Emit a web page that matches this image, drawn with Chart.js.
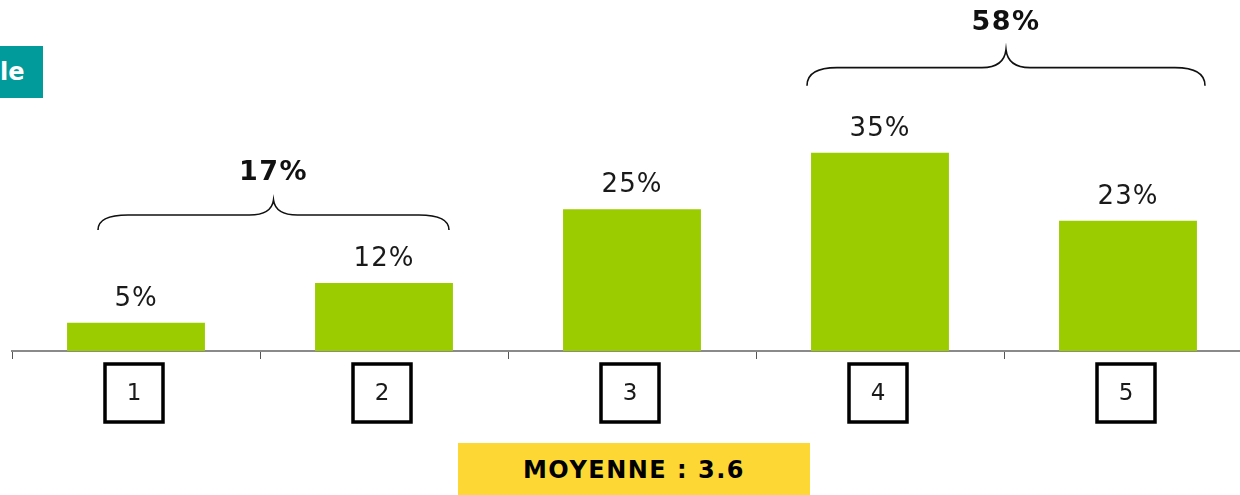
<!DOCTYPE html>
<html lang="fr">
<head>
<meta charset="utf-8">
<title>Répartition des notes</title>
<script src="https://cdn.jsdelivr.net/npm/chart.js@4.4.1/dist/chart.umd.min.js"></script>
<style>
  html, body { margin: 0; padding: 0; background: #ffffff; overflow: hidden; }
  #wrap { position: relative; width: 1264px; height: 495px; }
  #chart { display: block; }
  .tag {
    position: absolute; left: 0; top: 46px; width: 43px; height: 52px;
    background: #009b9a; color: #ffffff; overflow: hidden;
    font: bold 24px "DejaVu Sans", sans-serif; line-height: 52px;
    text-align: right; box-sizing: border-box; padding-right: 20px;
    white-space: nowrap;
  }
  .mean {
    position: absolute; left: 458px; top: 443px; width: 352px; height: 52px;
    background: #fdd835; color: #000000;
    font: bold 24px "DejaVu Sans", sans-serif; letter-spacing: 1.5px;
    line-height: 54px; text-align: center;
  }
</style>
</head>
<body>
<div id="wrap">
  <canvas id="chart"></canvas>
  <div class="tag">le</div>
  <div class="mean">MOYENNE : 3.6</div>
</div>
<script>
// Rating scale 1..5 and share of answers (%)
const categories = ['1', '2', '3', '4', '5'];
const shares = [5, 12, 25, 35, 23];
// Grouped totals shown above braces: bottom two and top two ratings
const groupLabels = ['17%', '58%'];
const groupFrom = [0, 3];
const groupTo = [1, 4];

const BAR_COLOR = '#9bcc00';
const AXIS_COLOR = '#8a8a8a';

// Curly brace with a cusp in the middle, opening downward
function drawBrace(ctx, x1, x2, yh, rise) {
  const xm = (x1 + x2) / 2;
  const r = 30, t = 24;
  ctx.beginPath();
  ctx.moveTo(x1, yh + rise);
  ctx.quadraticCurveTo(x1, yh, x1 + r, yh);
  ctx.lineTo(xm - t, yh);
  ctx.quadraticCurveTo(xm - 2, yh, xm, yh - rise);
  ctx.quadraticCurveTo(xm + 2, yh, xm + t, yh);
  ctx.lineTo(x2 - r, yh);
  ctx.quadraticCurveTo(x2, yh, x2, yh + rise);
  ctx.stroke();
}

const annotations = {
  id: 'annotations',
  afterDatasetsDraw(chart, args, opts) {
    const ctx = chart.ctx;
    const xs = chart.scales.x;
    const ys = chart.scales.y;
    const meta = chart.getDatasetMeta(0);
    ctx.save();

    // value labels above the bars
    ctx.fillStyle = '#1a1a1a';
    ctx.font = '26px "DejaVu Sans", sans-serif';
    ctx.letterSpacing = '1px';
    ctx.textAlign = 'center';
    ctx.textBaseline = 'alphabetic';
    meta.data.forEach((bar, i) => {
      ctx.fillText(shares[i] + '%', bar.x, bar.y - 17);
    });

    // framed category labels below the axis
    ctx.letterSpacing = '0px';
    ctx.font = '23px "DejaVu Sans", sans-serif';
    ctx.textBaseline = 'middle';
    ctx.lineWidth = 3.5;
    ctx.strokeStyle = '#000000';
    const boxTop = xs.top + 13, boxSize = 58;
    categories.forEach((c, i) => {
      const cx = xs.getPixelForValue(i) - 2;
      ctx.strokeRect(cx - boxSize / 2, boxTop, boxSize, boxSize);
      ctx.fillStyle = '#1a1a1a';
      ctx.fillText(c, cx, boxTop + boxSize / 2 + 1);
    });

    // group braces with their totals
    ctx.lineWidth = 1.6;
    ctx.strokeStyle = '#111111';
    ctx.fillStyle = '#111111';
    ctx.font = 'bold 27px "DejaVu Sans", sans-serif';
    ctx.letterSpacing = '1.5px';
    ctx.textBaseline = 'alphabetic';
    opts.braces.forEach((b, k) => {
      const x1 = xs.getPixelForValue(groupFrom[k]) + b.padLeft;
      const x2 = xs.getPixelForValue(groupTo[k]) + b.padRight;
      const yh = ys.getPixelForValue(b.level);
      drawBrace(ctx, x1, x2, yh, b.rise);
      ctx.fillText(groupLabels[k], (x1 + x2) / 2, yh - b.rise - 20);
    });

    ctx.restore();
  }
};

new Chart(document.getElementById('chart'), {
  type: 'bar',
  data: {
    labels: categories,
    datasets: [{
      data: shares,
      backgroundColor: BAR_COLOR,
      borderWidth: 0,
      barPercentage: 0.556,
      categoryPercentage: 1.0
    }]
  },
  options: {
    responsive: true,
    maintainAspectRatio: false,
    animation: false,
    layout: { padding: { left: 12, right: 12, top: 11, bottom: 0 } },
    plugins: {
      legend: { display: false },
      tooltip: { enabled: false },
      annotations: {
        braces: [
          { padLeft: -38, padRight: 65, level: 24, rise: 15 },
          { padLeft: -73, padRight: 77, level: 50, rise: 18 }
        ]
      }
    },
    scales: {
      x: {
        offset: true,
        grid: {
          offset: true,
          drawOnChartArea: false,
          drawTicks: true,
          tickLength: 8,
          color: '#555555',
          lineWidth: 1
        },
        border: { display: true, color: AXIS_COLOR, width: 2 },
        ticks: { display: false },
        afterFit(scale) { scale.height = 144; }
      },
      y: {
        display: false,
        min: 0,
        max: 60
      }
    }
  },
  plugins: [annotations]
});
</script>
</body>
</html>
